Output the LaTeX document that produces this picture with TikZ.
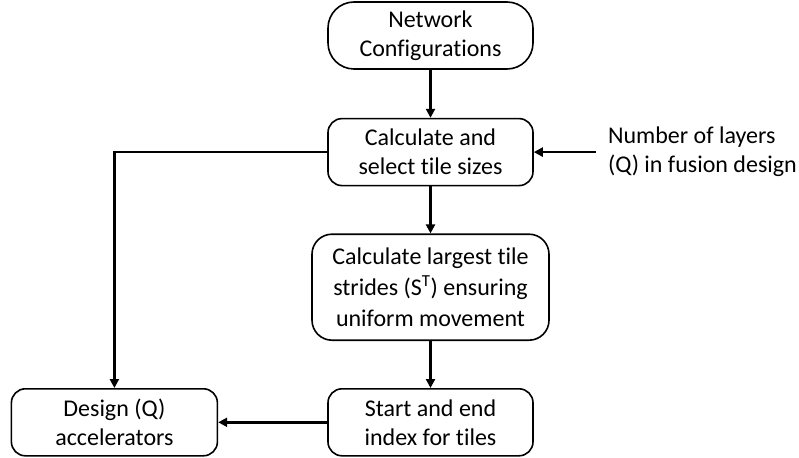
\documentclass[tikz,border=0pt]{standalone}
\usepackage{fontspec}
\setmainfont[Ligatures=NoCommon]{Carlito}
\usetikzlibrary{arrows.meta, positioning}

\begin{document}
\begin{tikzpicture}[
    x=1pt, y=1pt,
    stepbox/.style={draw, line width=1.6pt, rounded corners=14pt, align=center,
                    minimum width=205pt, minimum height=67pt, inner sep=2pt,
                    font=\fontsize{24}{29}\selectfont},
    flow/.style={line width=2.4pt, -{Triangle[length=9pt,width=9pt]}},
    node distance=48pt
  ]
  \useasboundingbox (0,0) rectangle (799,-457);

  % Main column
  \node[stepbox, rounded corners=26pt] (netconf) at (430.5,-35.5) {Network\\Configurations};
  \node[stepbox, below=of netconf] (tilesize) {Calculate and\\select tile sizes};
  \node[stepbox, minimum width=237pt, minimum height=106pt, rounded corners=20pt,
        font=\fontsize{24}{31}\selectfont,
        below=47pt of tilesize] (stride) {Calculate largest tile\\strides (S\textsuperscript{T}) ensuring\\uniform movement};
  \node[stepbox, below=47pt of stride] (index) {Start and end\\index for tiles};

  % Left branch
  \node[stepbox, minimum width=206pt, left=109pt of index] (design) {Design (Q)\\accelerators};

  % Input on the right
  \node[align=left, inner sep=0pt, font=\fontsize{24}{29}\selectfont,
        right=74pt of tilesize] (layers) {Number of layers\\(Q) in fusion design};

  % Arrows
  \draw[flow] (netconf) -- (tilesize);
  \draw[flow] (tilesize) -- (stride);
  \draw[flow] (stride) -- (index);
  \draw[flow] (index) -- (design);
  \draw[flow] (tilesize.west) -| (design.north);
  \draw[flow] ([xshift=-12pt]layers.west) -- (tilesize.east);
\end{tikzpicture}
\end{document}
